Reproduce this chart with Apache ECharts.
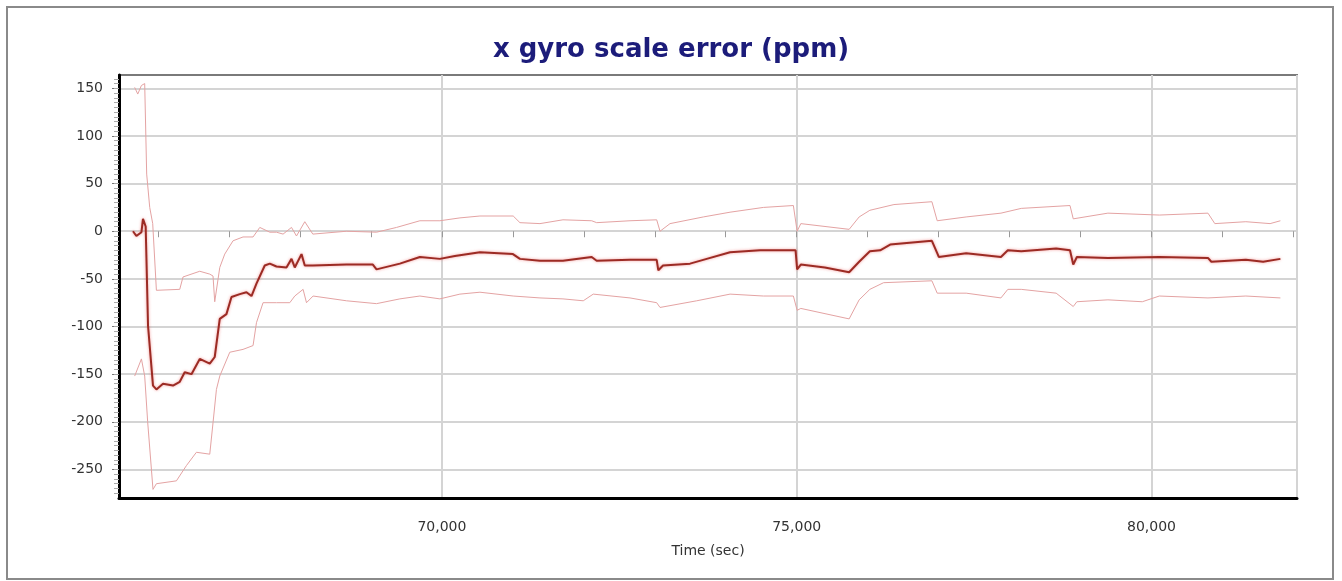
<!DOCTYPE html>
<html>
<head>
<meta charset="utf-8">
<title>x gyro scale error</title>
<script src="https://cdn.jsdelivr.net/npm/echarts@6/dist/echarts.min.js"></script>
<style>
  html, body { margin: 0; padding: 0; background: #fff; }
  #chart { width: 1342px; height: 581px; }
</style>
</head>
<body>
<div id="chart"></div>
<script>
// 估计值
// main estimate
const mainTime = [65647, 65695, 65766, 65788, 65826, 65859, 65929, 65977, 66070, 66211, 66306, 66376, 66471, 66588, 66729, 66799, 66870, 66964, 67035, 67152, 67246, 67317, 67387, 67504, 67575, 67669, 67810, 67881, 67927, 68022, 68068, 68181, 68656, 69027, 69079, 69408, 69690, 69972, 70183, 70536, 71001, 71100, 71382, 71706, 72111, 72181, 72651, 73027, 73050, 73116, 73497, 73732, 74061, 74484, 74984, 75006, 75058, 75397, 75739, 75880, 76031, 76176, 76317, 76905, 76980, 77002, 77388, 77878, 77975, 78164, 78656, 78851, 78897, 78948, 79385, 80110, 80795, 80843, 81329, 81573, 81816];
const mainError = [0, -5, -1, 13, 5, -99, -162, -166, -160, -162, -158, -148, -150, -134, -139, -132, -92, -87, -69, -66, -64, -68, -55, -36, -34, -37, -38, -29, -38, -24, -36, -36, -35, -35, -40, -34, -27, -29, -26, -22, -24, -29, -31, -31, -27, -31, -30, -30, -41, -36, -34, -29, -22, -20, -20, -40, -35, -38, -43, -32, -21, -20, -14, -10, -23, -27, -23, -27, -20, -21, -18, -20, -35, -27, -28, -27, -28, -32, -30, -32, -29];

// upper bound
const upperTime = [65671, 65714, 65766, 65812, 65840, 65883, 65925, 65977, 66306, 66352, 66588, 66729, 66775, 66799, 66870, 66940, 67057, 67198, 67339, 67434, 67575, 67669, 67762, 67881, 67951, 68068, 68181, 68656, 69079, 69361, 69690, 69972, 70254, 70536, 71005, 71100, 71382, 71706, 72111, 72181, 72651, 73027, 73074, 73215, 73684, 74061, 74530, 74953, 75006, 75058, 75739, 75880, 76031, 76370, 76905, 76980, 77388, 77878, 78164, 78851, 78897, 79385, 80110, 80795, 80892, 81329, 81671, 81816];
const upperError = [151, 144, 153, 155, 60, 25, 8, -62, -61, -48, -42, -45, -47, -74, -38, -24, -10, -6, -6, 4, -1, -1, -3, 4, -5, 10, -3, 0, -1, 4, 11, 11, 14, 16, 16, 9, 8, 12, 11, 9, 11, 12, 0, 8, 15, 20, 25, 27, 0, 8, 2, 15, 22, 28, 31, 11, 15, 19, 24, 27, 13, 19, 17, 19, 8, 10, 8, 11];

// lower bound
const lowerTime = [65671, 65766, 65788, 65812, 65854, 65929, 65977, 66259, 66400, 66541, 66729, 66775, 66823, 66870, 67011, 67198, 67339, 67387, 67480, 67669, 67857, 67927, 68044, 68092, 68185, 68656, 69079, 69408, 69690, 69972, 70254, 70536, 71005, 71382, 71706, 71992, 72133, 72651, 73027, 73074, 73591, 74061, 74530, 74953, 75006, 75058, 75739, 75880, 76031, 76224, 76905, 76980, 77388, 77878, 77975, 78164, 78656, 78897, 78948, 79385, 79870, 80110, 80795, 81329, 81816];
const lowerError = [-152, -134, -132, -152, -200, -271, -265, -262, -246, -232, -234, -201, -166, -152, -127, -124, -120, -96, -75, -75, -75, -68, -61, -75, -68, -73, -76, -71, -68, -71, -66, -64, -68, -70, -71, -73, -66, -70, -75, -80, -73, -66, -68, -68, -83, -81, -92, -72, -61, -54, -52, -65, -65, -70, -61, -61, -65, -79, -74, -72, -74, -68, -70, -68, -70];

// 坐标轴刻度
const yTickLabels = [-250, -200, -150, -100, -50, 0, 50, 100, 150];
const xTickLabels = [70000, 75000, 80000];
const xMinorTicks = [66000, 67000, 68000, 69000, 70000, 71000, 72000, 73000, 74000, 75000, 76000, 77000, 78000, 79000, 80000, 81000, 82000];
const yMin = -280, yMax = 164;
const xMin = 65450, xMax = 82050;

const yMinorTicks = [];
for (let v = -275; v <= 160; v += 5) yMinorTicks.push(v);

const zip = (a, b) => a.map((t, i) => [t, b[i]]);

const chart = echarts.init(document.getElementById('chart'));
const labelFont = { fontFamily: 'DejaVu Sans', fontSize: 14, color: '#333' };

const option = {
  animation: false,
  backgroundColor: '#fff',
  title: {
    text: 'x gyro scale error (ppm)',
    left: 'center',
    top: 32,
    textStyle: { fontFamily: 'DejaVu Sans', fontWeight: 'bold', fontSize: 26, color: '#1c1c7a' },
  },
  graphic: [
    {
      type: 'rect',
      shape: { x: 7, y: 7, width: 1326, height: 572 },
      style: { fill: 'none', stroke: '#8a8a8a', lineWidth: 2 },
      silent: true,
    },
  ],
  grid: {
    left: 119,
    right: 45,
    top: 75,
    bottom: 83,
    show: true,
    borderColor: '#7a7a7a',
    borderWidth: 2,
  },
  xAxis: [
    {
      type: 'value',
      min: xMin,
      max: xMax,
      splitNumber: 3,
      name: 'Time (sec)',
      nameLocation: 'middle',
      nameGap: 46,
      nameTextStyle: labelFont,
      axisLine: { show: true, onZero: false, lineStyle: { color: '#000', width: 3 } },
      axisTick: { show: false },
      axisLabel: Object.assign({ customValues: xTickLabels, margin: 22, formatter: v => v.toLocaleString('en-US') }, labelFont),
      splitLine: { show: true, lineStyle: { color: '#d4d4d4', width: 2 } },
    },
    {
      type: 'value',
      min: xMin,
      max: xMax,
      position: 'bottom',
      axisLine: { show: false },
      axisTick: { show: true, customValues: xMinorTicks, length: 6, lineStyle: { color: '#999' } },
      axisLabel: { show: false },
      splitLine: { show: false },
    },
  ],
  yAxis: [
    {
      type: 'value',
      min: yMin,
      max: yMax,
      splitNumber: 9,
      axisLine: { show: true, onZero: false, lineStyle: { color: '#000', width: 3 } },
      axisTick: { show: true, customValues: yTickLabels, length: 7, lineStyle: { color: '#777' } },
      axisLabel: Object.assign({ customValues: yTickLabels, margin: 16 }, labelFont),
      splitLine: { show: true, lineStyle: { color: '#d4d4d4', width: 2 } },
    },
    {
      type: 'value',
      min: yMin,
      max: yMax,
      position: 'left',
      axisLine: { show: false },
      axisTick: { show: true, customValues: yMinorTicks, length: 5, lineStyle: { color: '#aaa' } },
      axisLabel: { show: false },
      splitLine: { show: false },
    },
  ],
  series: [
    {
      name: 'upper',
      type: 'line',
      data: zip(upperTime, upperError),
      showSymbol: false,
      lineStyle: { color: '#e4a3a3', width: 1 },
      z: 2,
    },
    {
      name: 'lower',
      type: 'line',
      data: zip(lowerTime, lowerError),
      showSymbol: false,
      lineStyle: { color: '#e4a3a3', width: 1 },
      z: 2,
    },
    {
      name: 'estimate',
      type: 'line',
      data: zip(mainTime, mainError),
      showSymbol: false,
      lineStyle: { color: '#9c2b24', width: 2, shadowColor: 'rgba(235,70,70,0.55)', shadowBlur: 3 },
      z: 3,
    },
  ],
};

chart.setOption(option);
</script>
</body>
</html>
